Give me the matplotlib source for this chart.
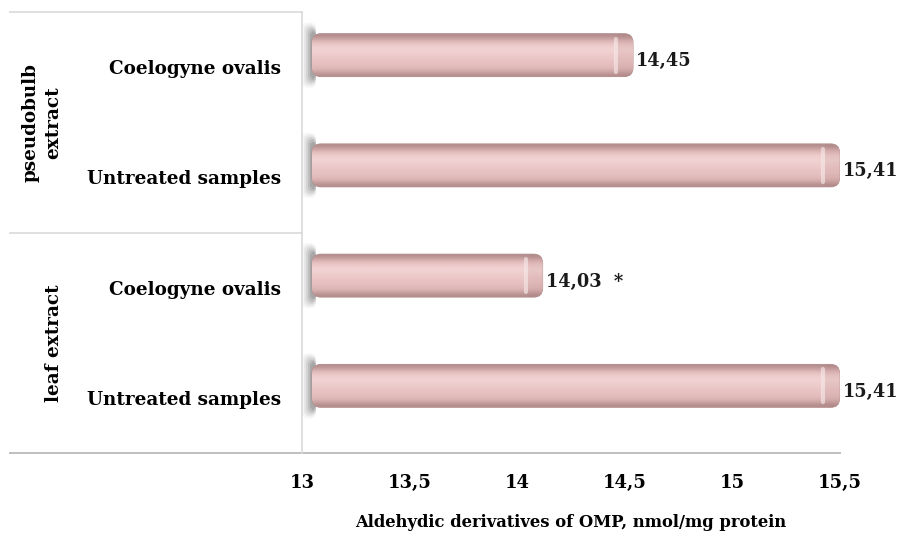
import matplotlib
matplotlib.use("Agg")
import matplotlib.pyplot as plt
import numpy as np
from matplotlib.patches import FancyBboxPatch
from matplotlib.transforms import offset_copy, blended_transform_factory
from matplotlib.ticker import FuncFormatter

# data, top to bottom
categories = ["Coelogyne ovalis", "Untreated samples", "Coelogyne ovalis", "Untreated samples"]
values = [14.45, 15.41, 14.03, 15.41]
value_labels = ["14,45", "15,41", "14,03  *", "15,41"]
groups = ["pseudobulb\nextract", "leaf extract"]
x_ticks = [13, 13.5, 14, 14.5, 15, 15.5]

plt.rcParams["font.family"] = ["DejaVu Serif"]
plt.rcParams["font.weight"] = "bold"

fig = plt.figure(figsize=(9.04, 5.34), dpi=100)
ax = fig.add_axes([302 / 904, 1 - 453 / 534, 538 / 904, 441 / 534])

ypos = np.arange(len(categories))
ax.set_xlim(13, 15.5)
ax.set_ylim(len(categories) - 0.5, -0.5)

# hidden bars give the geometry, fancy patches draw the 3d look
bars = ax.barh(ypos, [v - 13 for v in values], left=13, height=0.39, alpha=0)

px_x = 538 / 2.5
px_y = 441 / 4
cap = 9 / px_x
asp = px_x / px_y
shift = offset_copy(ax.transData, fig=fig, x=10, y=12, units="dots")

# vertical gradient of the cylinder
grad = np.array([
    [0.70, 0.55, 0.55],
    [0.86, 0.70, 0.70],
    [0.93, 0.79, 0.79],
    [0.95, 0.83, 0.83],
    [0.94, 0.81, 0.81],
    [0.92, 0.78, 0.78],
    [0.91, 0.76, 0.76],
    [0.89, 0.74, 0.74],
    [0.85, 0.69, 0.69],
    [0.70, 0.55, 0.55],
])
img = grad[:, None, :].repeat(4, axis=1)

for b in bars:
    x0, y0 = b.get_x(), b.get_y()
    w, h = b.get_width() + cap, b.get_height()
    # soft shadow at the left end
    for k, a in enumerate([0.05, 0.08, 0.11, 0.14, 0.18]):
        sh = FancyBboxPatch((x0 - (10 - 2 * k) / px_x, y0 - (11 - 2 * k) / px_y),
                            (14 - 2 * k) / px_x, h + (22 - 4 * k) / px_y,
                            boxstyle="round,pad=0,rounding_size=%f" % (6 / px_x),
                            mutation_aspect=asp,
                            fc="#404040", ec="none", alpha=a, transform=shift, zorder=1)
        ax.add_patch(sh)
    p = FancyBboxPatch((x0, y0), w, h,
                       boxstyle="round,pad=0,rounding_size=%f" % (9 / px_x),
                       mutation_aspect=asp,
                       fc="#e6bcbc", ec="#b08c8c", lw=0.6, transform=shift, zorder=2)
    ax.add_patch(p)
    im = ax.imshow(img, extent=(x0, x0 + w, y0 + h, y0), aspect="auto",
                   interpolation="bicubic", transform=shift, zorder=3)
    im.set_clip_path(p)
    # rounded end of the cylinder: slightly darker cap with a light rim
    end = FancyBboxPatch((x0 + w - 18 / px_x, y0), 18 / px_x, h,
                         boxstyle="round,pad=0,rounding_size=%f" % (9 / px_x),
                         mutation_aspect=asp,
                         fc="#a07070", ec="none", alpha=0.12,
                         transform=shift, zorder=4)
    ax.add_patch(end)
    ax.plot([x0 + w - 17 / px_x] * 2, [y0 + 5 / px_y, y0 + h - 5 / px_y],
            color="#fbeeee", lw=3, alpha=0.6, solid_capstyle="round",
            transform=shift, zorder=5)

ax.set_xlim(13, 15.5)
ax.set_ylim(len(categories) - 0.5, -0.5)

# value labels
lab_tr = offset_copy(ax.transData, fig=fig, x=22, y=6, units="dots")
for y, v, t in zip(ypos, values, value_labels):
    ax.text(v, y, t, transform=lab_tr, ha="left", va="center",
            fontsize=12.8, fontweight="bold", color="#1a1a1a")

ax.set_yticks(ypos)
ax.set_yticklabels(categories, fontsize=13.2, fontweight="bold")
ax.set_xticks(x_ticks)
ax.xaxis.set_major_formatter(FuncFormatter(lambda v, p: ("%g" % v).replace(".", ",")))
ax.tick_params(axis="y", length=0, pad=15)
ax.tick_params(axis="x", length=0, pad=15, labelsize=13)
for lab in ax.get_xticklabels():
    lab.set_fontweight("bold")

for s in ax.spines.values():
    s.set_visible(False)

# frame lines of the category table
bt = blended_transform_factory(ax.transAxes, ax.transData)
left = (10 - 302) / 538
grid_col = "#d9d9d9"
ax.plot([left, 0], [-0.5, -0.5], transform=bt, color=grid_col, lw=1.2, clip_on=False)
ax.plot([left, 0], [1.5, 1.5], transform=bt, color=grid_col, lw=1.2, clip_on=False)
ax.plot([left, 1], [3.5, 3.5], transform=bt, color="#bfbfbf", lw=1.4, clip_on=False)
ax.plot([0, 0], [-0.5, 3.5], transform=bt, color=grid_col, lw=1.2, clip_on=False)

# group labels
ax.text((42 - 302) / 538, 0.5, groups[0], transform=bt, rotation=90,
        ha="center", va="center", multialignment="center",
        fontsize=13.2, fontweight="bold", linespacing=1.35)
ax.text((54 - 302) / 538, 2.5, groups[1], transform=bt, rotation=90,
        ha="center", va="center", fontsize=13.2, fontweight="bold")

ax.set_xlabel("Aldehydic derivatives of OMP, nmol/mg protein",
              fontsize=11.8, fontweight="bold", labelpad=16)

fig.savefig("out.png", dpi=100)
